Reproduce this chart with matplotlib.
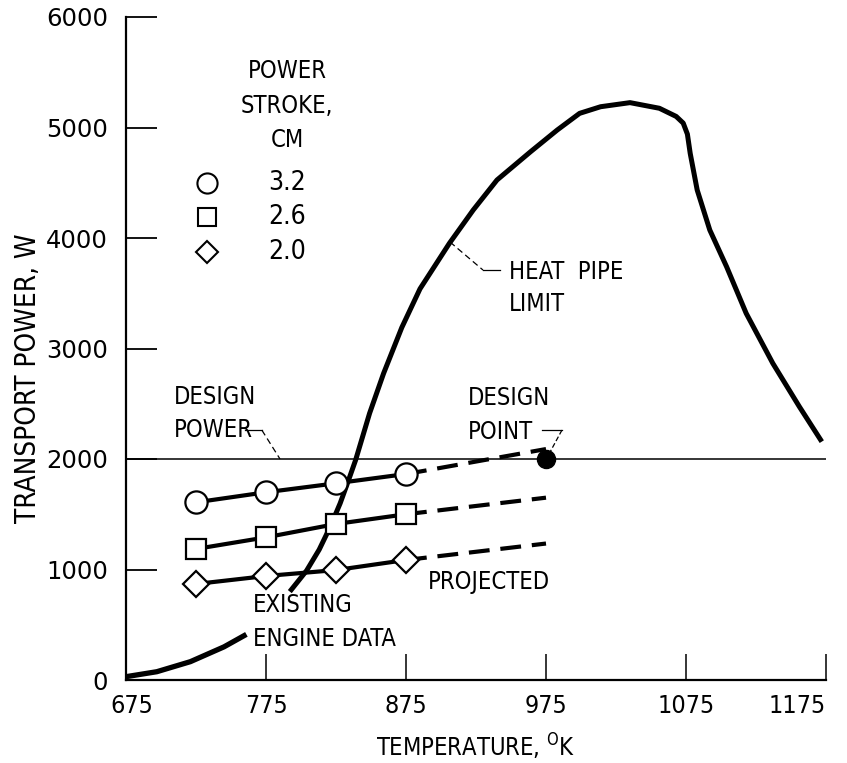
import numpy as np
import matplotlib.pyplot as plt
from matplotlib.transforms import ScaledTranslation

# data
temps_meas = [725, 775, 825, 875]
stroke_32 = [1608, 1699, 1780, 1864]
stroke_26 = [1186, 1291, 1412, 1500]
stroke_20 = [869, 941, 995, 1086]

temps_proj = [875, 975]
proj_32 = [1864, 2090]
proj_26 = [1500, 1650]
proj_20 = [1086, 1235]

# heat pipe limit, lower part (existing engine data) and upper part
hp_low_t = [675, 697, 721, 745, 761]
hp_low_p = [30, 75, 166, 300, 413]
hp_up_t = [792, 804, 813, 821, 828, 834, 839, 849, 859, 872, 885, 906, 923,
           940, 964, 983, 999, 1014, 1035, 1056, 1068, 1073, 1076, 1078, 1083,
           1092, 1104, 1118, 1137, 1156, 1172]
hp_up_p = [800, 990, 1180, 1390, 1600, 1810, 1990, 2414, 2775, 3190, 3540,
           3952, 4253, 4525, 4781, 4977, 5128, 5188, 5225, 5174, 5100, 5040,
           4940, 4766, 4434, 4072, 3740, 3318, 2866, 2473, 2157]

design_power = 2000
design_point = (975, 2000)

x_ticks = [675, 775, 875, 975, 1075, 1175]
y_ticks = [0, 1000, 2000, 3000, 4000, 5000, 6000]

stroke_labels = ['3.2', '2.6', '2.0']
stroke_markers = ['o', 's', 'D']

plt.rcParams['font.family'] = ['DejaVu Sans']
plt.rcParams['font.stretch'] = 'condensed'

fig = plt.figure(figsize=(8.47, 7.63), dpi=100)
ax = fig.add_axes([126 / 847, 83 / 763, 700 / 847, 663 / 763])
ax.set_xlim(675, 1175)
ax.set_ylim(0, 6000)

for s in ['top', 'right']:
    ax.spines[s].set_visible(False)
for s in ['left', 'bottom']:
    ax.spines[s].set_linewidth(1.6)

ax.set_xticks(x_ticks)
ax.set_yticks(y_ticks)
ax.tick_params(axis='y', direction='in', length=22, width=1.3, pad=13)
ax.tick_params(axis='x', direction='in', length=19, width=1.1, pad=10)
for lab in ax.get_yticklabels():
    lab.set_fontstretch('normal')
    lab.set_fontsize(17.5)
for lab in ax.get_xticklabels():
    lab.set_fontsize(18)
ax.get_xticklabels()[-1].set_ha('right')
first = ax.get_xticklabels()[0]
first.set_transform(first.get_transform()
                    + ScaledTranslation(6 / 100, 0, fig.dpi_scale_trans))

# design power line
ax.axhline(design_power, color='black', lw=1.1, zorder=1)

# heat pipe limit
ax.plot(hp_low_t, hp_low_p, color='black', lw=3.8, solid_capstyle='butt')
ax.plot(hp_up_t, hp_up_p, color='black', lw=3.6, solid_capstyle='butt',
        solid_joinstyle='round')

# measured series
ms = {'o': 16, 's': 14, 'D': 13}
series = [stroke_32, stroke_26, stroke_20]
projs = [proj_32, proj_26, proj_20]
for vals, proj, m in zip(series, projs, stroke_markers):
    ax.plot(temps_proj, proj, color='black', lw=3.0, dashes=(5, 2.6), zorder=2)
    ax.plot(temps_meas, vals, color='black', lw=3.0, marker=m, ms=ms[m],
            mfc='white', mec='black', mew=1.6, zorder=3, clip_on=False)

ax.plot(*design_point, 'o', color='black', ms=13, zorder=4)

# legend block
tk = dict(fontsize=17, ha='center', va='center')
ax.text(790, 5511, 'POWER', **tk)
ax.text(790, 5195, 'STROKE,', **tk)
ax.text(790, 4887, 'CM', **tk)
for lab, m, y in zip(stroke_labels, stroke_markers, [4498, 4190, 3873]):
    ax.plot(733, y, m, ms=ms[m] - 1.5, mfc='white', mec='black', mew=1.5)
    ax.text(790, y, lab, fontsize=19, ha='center', va='center')

# annotations
ta = dict(fontsize=17, ha='left', va='center')
ax.text(948.6, 3692, 'HEAT  PIPE', **ta)
ax.text(948.6, 3403, 'LIMIT', **ta)
ax.plot([906.4, 930], [3964, 3710], color='black', lw=0.9, dashes=(5, 3))
ax.plot([930, 942], [3710, 3710], color='black', lw=0.9)

ax.text(919.3, 2552, 'DESIGN', **ta)
ax.text(919.3, 2244, 'POINT', **ta)
ax.plot([972, 986.4], [2262, 2262], color='black', lw=0.9)
ax.plot([986.4, 977.9], [2262, 2063], color='black', lw=0.9, dashes=(4, 2))

ax.text(709.3, 2561, 'DESIGN', **ta)
ax.text(709.3, 2262, 'POWER', **ta)
ax.plot([760, 772], [2262, 2262], color='black', lw=0.9)
ax.plot([772, 785], [2262, 2000], color='black', lw=0.9, dashes=(5, 3))

ax.text(890.7, 887, 'PROJECTED', **ta)
ax.text(765.7, 679, 'EXISTING', **ta)
ax.text(765.7, 371, 'ENGINE DATA', **ta)

fig.text(28 / 847, 1 - 378 / 763, 'TRANSPORT POWER, W', rotation=90,
         fontsize=20, ha='center', va='center')
fig.text(476 / 847, 1 - 747 / 763, r'TEMPERATURE, $^{\mathrm{O}}$K',
         fontsize=17, ha='center', va='center')

fig.savefig('out.png', dpi=100)
